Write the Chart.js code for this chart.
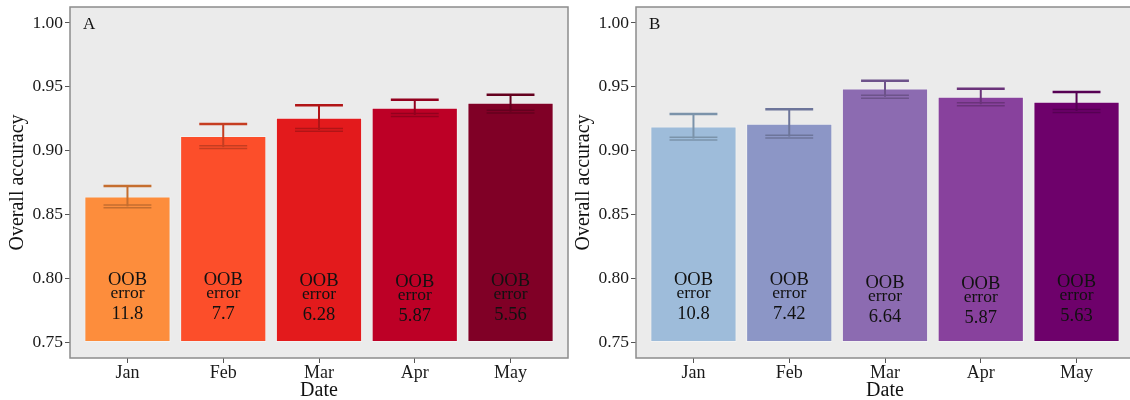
<!DOCTYPE html>
<html>
<head>
<meta charset="utf-8">
<script src="https://cdn.jsdelivr.net/npm/chart.js@4.4.1/dist/chart.umd.min.js"></script>
<style>
  html, body { margin: 0; padding: 0; background: #fff; overflow: hidden; width: 1130px; height: 400px; }
  .panel { position: absolute; top: 0; width: 580px; height: 400px; }
  #wrapA { left: 0; }
  #wrapB { left: 566px; }
</style>
</head>
<body>
<div id="wrapA" class="panel"><canvas id="chartA"></canvas></div>
<div id="wrapB" class="panel"><canvas id="chartB"></canvas></div>
<script>
// Categories and axis ticks
const months = ['Jan', 'Feb', 'Mar', 'Apr', 'May'];
const yTicks = [0.75, 0.80, 0.85, 0.90, 0.95, 1.00];
const barFloor = 0.75;

// Panel A: overall accuracy, error bar limits, OOB error
const accuracyA = [0.864, 0.9115, 0.9258, 0.9336, 0.9375];
const lowerA    = [0.8563, 0.9027, 0.9162, 0.9279, 0.9305];
const upperA    = [0.8722, 0.9209, 0.9355, 0.9398, 0.9438];
const oobA      = ['11.8', '7.7', '6.28', '5.87', '5.56'];
const coloursA  = ['#FD8D3C', '#FC4E2A', '#E31A1C', '#BD0026', '#800026'];

// Panel B: overall accuracy, error bar limits, OOB error
const accuracyB = [0.9188, 0.9211, 0.9487, 0.9422, 0.9383];
const lowerB    = [0.9094, 0.9110, 0.9422, 0.9363, 0.9310];
const upperB    = [0.9287, 0.9323, 0.9547, 0.9484, 0.9459];
const oobB      = ['10.8', '7.42', '6.64', '5.87', '5.63'];
const coloursB  = ['#9EBCDA', '#8C96C6', '#8C6BB1', '#88419D', '#6E016B'];

const SERIF = '"Liberation Serif", "Times New Roman", serif';

function darken(hex, f) {
  const n = parseInt(hex.slice(1), 16);
  const r = Math.round(((n >> 16) & 255) * f);
  const g = Math.round(((n >> 8) & 255) * f);
  const b = Math.round((n & 255) * f);
  return `rgb(${r},${g},${b})`;
}

// Grey panel background, error bars, in-bar labels and panel frame
const panelPlugin = {
  id: 'panelDecor',
  beforeDraw(chart) {
    const { ctx, chartArea: a } = chart;
    ctx.save();
    ctx.fillStyle = '#EBEBEB';
    ctx.fillRect(a.left, a.top, a.right - a.left, a.bottom - a.top);
    ctx.restore();
  },
  afterDatasetsDraw(chart, args, opts) {
    const { ctx } = chart;
    const xs = chart.scales.x, ys = chart.scales.y;
    const half = (xs.getPixelForValue(1) - xs.getPixelForValue(0)) * 0.25;
    ctx.save();
    opts.lower.forEach((lo, i) => {
      const cx = xs.getPixelForValue(i);
      const yt = ys.getPixelForValue(opts.upper[i]);
      const yb = ys.getPixelForValue(lo);
      const col = darken(opts.colours[i], 0.78);
      ctx.strokeStyle = col;
      ctx.lineWidth = 2;
      ctx.beginPath();
      ctx.moveTo(cx, yt); ctx.lineTo(cx, yb);
      ctx.stroke();
      ctx.lineWidth = 2.5;
      ctx.beginPath();
      ctx.moveTo(cx - half, yt); ctx.lineTo(cx + half, yt);
      ctx.stroke();
      ctx.lineWidth = 1.5;
      ctx.beginPath();
      ctx.moveTo(cx - half, yb - 1.4); ctx.lineTo(cx + half, yb - 1.4);
      ctx.moveTo(cx - half, yb + 1.4); ctx.lineTo(cx + half, yb + 1.4);
      ctx.stroke();
    });
    // OOB error labels inside the bars
    ctx.fillStyle = '#111';
    ctx.textAlign = 'center';
    ctx.textBaseline = 'alphabetic';
    opts.oob.forEach((txt, i) => {
      const cx = xs.getPixelForValue(i);
      const y0 = ys.getPixelForValue(0.80) + opts.shift[i];
      ctx.font = `18.5px ${SERIF}`;
      ctx.fillText('OOB', cx, y0 + 7);
      ctx.font = `17.5px ${SERIF}`;
      ctx.fillText('error', cx, y0 + 19.5);
      ctx.font = `18.5px ${SERIF}`;
      ctx.fillText(txt, cx, y0 + 40.5);
    });
    // Panel tag
    ctx.textAlign = 'left';
    ctx.font = `17px ${SERIF}`;
    ctx.fillText(opts.tag, chart.chartArea.left + 13, chart.chartArea.top + 22);
    ctx.restore();
  },
  afterDraw(chart) {
    const { ctx, chartArea: a } = chart;
    ctx.save();
    ctx.strokeStyle = '#8C8C8C';
    ctx.lineWidth = 1.5;
    ctx.strokeRect(a.left, a.top, a.right - a.left, a.bottom - a.top);
    ctx.restore();
  }
};

function makeChart(id, tag, acc, lower, upper, oob, colours, shift) {
  return new Chart(document.getElementById(id), {
    type: 'bar',
    data: {
      datasets: [{
        data: months.map((m, i) => ({ x: i, y: [barFloor, acc[i]] })),
        backgroundColor: colours,
        borderColor: 'rgba(255,255,255,0.35)',
        borderWidth: 1,
        borderSkipped: false,
        barPercentage: 0.9,
        categoryPercentage: 1.0
      }]
    },
    options: {
      responsive: true,
      maintainAspectRatio: false,
      devicePixelRatio: 1,
      animation: false,
      layout: { padding: { top: 7, right: 12, left: 0, bottom: 0 } },
      plugins: {
        legend: { display: false },
        tooltip: { enabled: false },
        panelDecor: { tag, lower, upper, oob, colours, shift }
      },
      scales: {
        x: {
          type: 'linear',
          offset: false,
          min: -0.6,
          max: 4.6,
          afterBuildTicks: s => { s.ticks = months.map((m, i) => ({ value: i })); },
          afterFit: s => { s.height = 42; s.paddingLeft = 0; s.paddingRight = 0; },
          ticks: {
            autoSkip: false,
            maxRotation: 0,
            padding: -1,
            color: '#1a1a1a',
            font: { family: SERIF, size: 18 },
            callback: v => months[v]
          },
          grid: { offset: false, drawOnChartArea: false, drawTicks: true, tickLength: 5, color: '#555', lineWidth: 1 },
          border: { display: false },
          title: { display: true, text: 'Date', color: '#111', font: { family: SERIF, size: 20, lineHeight: 0.9 }, padding: { top: 0, bottom: 0 } }
        },
        y: {
          type: 'linear',
          min: 0.7375,
          max: 1.0125,
          afterBuildTicks: s => { s.ticks = yTicks.map(v => ({ value: v })); },
          afterFit: s => { s.width = 70; s.paddingTop = 0; s.paddingBottom = 0; },
          ticks: {
            padding: 2,
            color: '#1a1a1a',
            font: { family: SERIF, size: 17.5 },
            callback: v => v.toFixed(2)
          },
          grid: { drawOnChartArea: false, drawTicks: true, tickLength: 5, color: '#555', lineWidth: 1 },
          border: { display: false },
          title: { display: true, text: 'Overall accuracy', color: '#111', font: { family: SERIF, size: 20 }, padding: { top: 6, bottom: 0 } }
        }
      }
    },
    plugins: [panelPlugin]
  });
}

makeChart('chartA', 'A', accuracyA, lowerA, upperA, oobA, coloursA, [0, 0, 1, 2, 1]);
makeChart('chartB', 'B', accuracyB, lowerB, upperB, oobB, coloursB, [0, 0, 3, 4, 2]);
</script>
</body>
</html>
